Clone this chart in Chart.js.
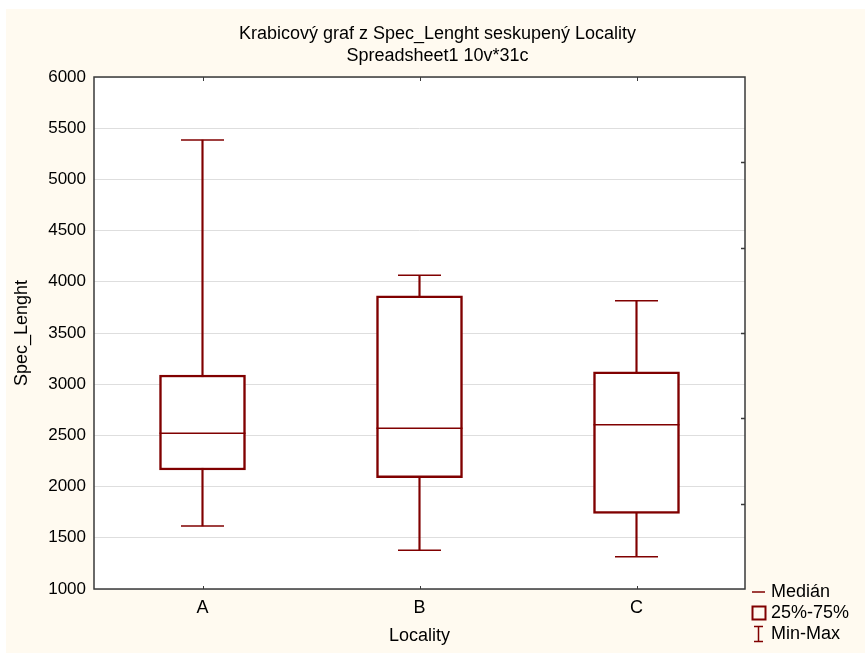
<!DOCTYPE html>
<html lang="cs">
<head>
<meta charset="utf-8">
<title>Krabicový graf z Spec_Lenght</title>
<script src="https://cdn.jsdelivr.net/npm/chart.js@4.4.1/dist/chart.umd.min.js"></script>
<style>
  html, body { margin: 0; padding: 0; background: #fff; }
  #wrap { width: 865px; height: 653px; position: relative; }
</style>
</head>
<body>
<div id="wrap"><canvas id="box-chart"></canvas></div>
<script>
// ---- data -------------------------------------------------
const localities = ["A", "B", "C"];
const minVals    = [1615, 1378, 1316];
const q1Vals     = [2162, 2087, 1739];
const medianVals = [2520, 2569, 2605];
const q3Vals     = [3090, 3864, 3122];
const maxVals    = [5385, 4063, 3816];

const yMin = 1000;
const yMax = 6000;
const yStep = 500;
// short inner marks on the right frame edge
const rightTicks = [5167, 4333, 3500, 2667, 1833];

const titleLines = ["Krabicový graf z Spec_Lenght seskupený Locality", "Spreadsheet1 10v*31c"];
const xTitle = "Locality";
const yTitle = "Spec_Lenght";
const legendLabels = ["Medián", "25%-75%", "Min-Max"];

// ---- styles -----------------------------------------------
const MAROON = "#800000";
const FRAME  = "#3a3a3a";
const CREAM  = "#fffaf0";
const FONT   = "'Liberation Sans', Arial, sans-serif";

Chart.defaults.font.family = FONT;
Chart.defaults.font.size = 18;
Chart.defaults.color = "#000";

// background, frame, inner ticks and the legend block
const statFrame = {
  id: "statFrame",
  beforeDraw(chart) {
    const { ctx, chartArea: a } = chart;
    ctx.save();
    ctx.fillStyle = "#fff";
    ctx.fillRect(0, 0, chart.width, chart.height);
    ctx.fillStyle = CREAM;
    ctx.fillRect(6, 9, chart.width - 6, chart.height - 9);
    ctx.fillStyle = "#fff";
    ctx.fillRect(a.left, a.top, a.right - a.left, a.bottom - a.top);
    ctx.restore();
  },
  afterDraw(chart) {
    const { ctx, chartArea: a, scales } = chart;
    ctx.save();

    // frame
    ctx.strokeStyle = FRAME;
    ctx.lineWidth = 1.5;
    ctx.strokeRect(a.left, a.top, a.right - a.left, a.bottom - a.top);

    // category marks top/bottom
    ctx.lineWidth = 1;
    localities.forEach((c, i) => {
      const x = Math.round(scales.x.getPixelForValue(i)) + 0.5;
      ctx.beginPath();
      ctx.moveTo(x, a.top);
      ctx.lineTo(x, a.top + 4);
      ctx.moveTo(x, a.bottom);
      ctx.lineTo(x, a.bottom - 3);
      ctx.stroke();
    });

    // right edge marks
    ctx.lineWidth = 1.5;
    rightTicks.forEach(v => {
      const y = Math.round(scales.y.getPixelForValue(v)) + 0.5;
      ctx.beginPath();
      ctx.moveTo(a.right, y);
      ctx.lineTo(a.right - 4, y);
      ctx.stroke();
    });

    // legend
    const lx = a.right + 7;
    const rows = [a.bottom + 3, a.bottom + 24, a.bottom + 45];
    ctx.strokeStyle = MAROON;

    ctx.lineWidth = 1.5;
    ctx.beginPath();
    ctx.moveTo(lx, rows[0]);
    ctx.lineTo(lx + 13, rows[0]);
    ctx.stroke();

    ctx.lineWidth = 2;
    ctx.strokeRect(lx + 0.5, rows[1] - 6.5, 13, 13);

    ctx.lineWidth = 1.5;
    ctx.beginPath();
    ctx.moveTo(lx + 6.5, rows[2] - 7.5);
    ctx.lineTo(lx + 6.5, rows[2] + 7.5);
    ctx.moveTo(lx + 2, rows[2] - 7.5);
    ctx.lineTo(lx + 11, rows[2] - 7.5);
    ctx.moveTo(lx + 2, rows[2] + 7.5);
    ctx.lineTo(lx + 11, rows[2] + 7.5);
    ctx.stroke();

    ctx.fillStyle = "#000";
    ctx.font = "18px " + FONT;
    ctx.textAlign = "left";
    ctx.textBaseline = "middle";
    legendLabels.forEach((t, i) => ctx.fillText(t, lx + 19, rows[i]));

    ctx.restore();
  }
};

const ctx = document.getElementById("box-chart").getContext("2d");

new Chart(ctx, {
  type: "bar",
  data: {
    labels: localities,
    datasets: [
      {
        // whisker stem min..max
        label: "Min-Max",
        data: localities.map((_, i) => [minVals[i], maxVals[i]]),
        backgroundColor: MAROON,
        borderWidth: 0,
        barThickness: 1.5,
        grouped: false,
        order: 4,
      },
      {
        // 25%-75% box
        label: "25%-75%",
        data: localities.map((_, i) => [q1Vals[i], q3Vals[i]]),
        backgroundColor: "#fff",
        borderColor: MAROON,
        borderWidth: 2.5,
        borderSkipped: false,
        barThickness: 86,
        grouped: false,
        order: 3,
      },
      {
        type: "line",
        label: "Max",
        data: maxVals,
        showLine: false,
        pointStyle: "line",
        pointRadius: 21.5,
        pointBorderWidth: 1.5,
        pointBorderColor: MAROON,
        order: 2,
      },
      {
        type: "line",
        label: "Min",
        data: minVals,
        showLine: false,
        pointStyle: "line",
        pointRadius: 21.5,
        pointBorderWidth: 1.5,
        pointBorderColor: MAROON,
        order: 2,
      },
      {
        type: "line",
        label: "Medián",
        data: medianVals,
        showLine: false,
        pointStyle: "line",
        pointRadius: 43,
        pointBorderWidth: 1.5,
        pointBorderColor: MAROON,
        order: 1,
      },
    ],
  },
  options: {
    responsive: true,
    maintainAspectRatio: false,
    animation: false,
    events: [],
    layout: { padding: { left: 10, right: 0, top: 0, bottom: 0 } },
    plugins: {
      legend: { display: false },
      tooltip: { enabled: false },
      title: {
        display: true,
        text: titleLines,
        color: "#000",
        font: { size: 18, weight: "normal", lineHeight: 22 / 18 },
        padding: { top: 23, bottom: 10 },
      },
    },
    scales: {
      x: {
        type: "category",
        offset: true,
        grid: { display: false, drawTicks: false },
        border: { display: false },
        ticks: { padding: 8, color: "#000" },
        title: { display: true, text: xTitle, color: "#000", padding: { top: 0, bottom: 6 } },
        afterFit(scale) { scale.height = 64; },
      },
      y: {
        min: yMin,
        max: yMax,
        grid: { color: "#dedede", lineWidth: 1, drawTicks: false },
        border: { display: false },
        ticks: {
          stepSize: yStep,
          padding: 8,
          color: "#000",
          font: { size: 17 },
          callback: v => String(v),
        },
        title: { display: true, text: yTitle, color: "#000", padding: { top: 1, bottom: 0 } },
        afterFit(scale) { scale.width = 84; },
      },
      yRight: {
        position: "right",
        min: yMin,
        max: yMax,
        grid: { display: false, drawTicks: false },
        border: { display: false },
        ticks: { display: false },
        afterFit(scale) { scale.width = 120; },
      },
    },
  },
  plugins: [statFrame],
});
</script>
</body>
</html>
